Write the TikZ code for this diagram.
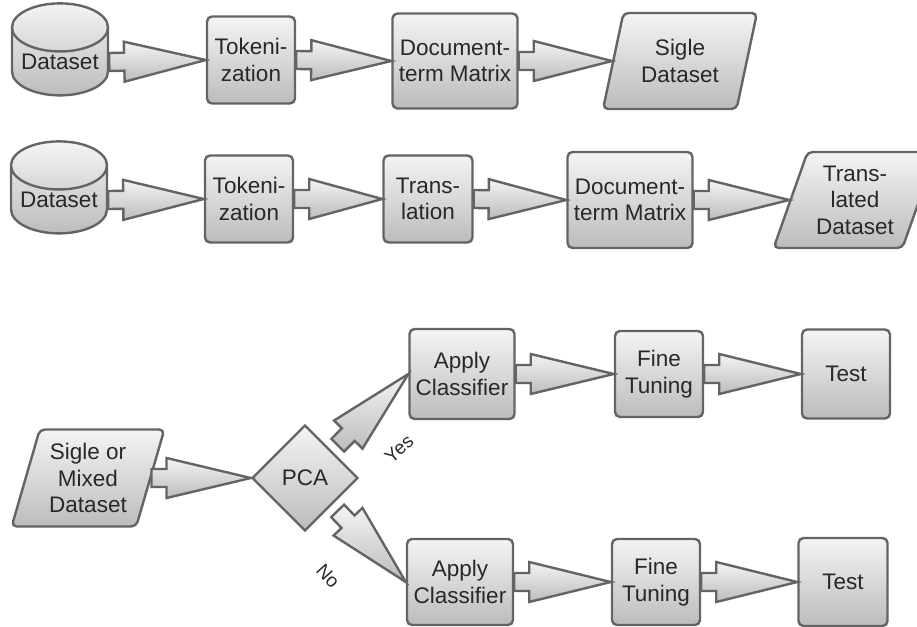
\documentclass[tikz,border=0pt]{standalone}
\usepackage{fontspec}
\setmainfont{Liberation Sans}
\usetikzlibrary{shapes.geometric}
\usetikzlibrary{calc}

\definecolor{shadetop}{RGB}{244,244,244}
\definecolor{shadebot}{RGB}{188,188,188}
\definecolor{edgegray}{RGB}{100,100,100}
\definecolor{textgray}{RGB}{40,40,40}

% block arrow between two anchors: #1 gap at the start
\newcommand{\flowarrow}[3][0pt]{%
  \coordinate (fa0) at (#2);
  \coordinate (fae) at (#3);
  \coordinate (fas) at ($(fa0)!#1!(fae)$);
  \coordinate (fab) at ($(fas)!15pt!(fae)$);
  \draw[flow]
    ($(fas)!9pt!90:(fae)$) -- ($(fab)!9pt!90:(fae)$) -- ($(fab)!20pt!90:(fae)$) -- (fae)
    -- ($(fab)!20pt!-90:(fae)$) -- ($(fab)!9pt!-90:(fae)$) -- ($(fas)!9pt!-90:(fae)$) -- cycle;
}

\begin{document}
\begin{tikzpicture}[x=1pt,y=-1pt]
  \tikzset{base/.style = {draw=edgegray,line width=2.4pt,top color=shadetop,bottom color=shadebot,
      text=textgray,font=\fontsize{22.5}{26.5}\selectfont,align=center,inner sep=0pt}}
  \tikzset{proc/.style = {base,rectangle,rounded corners=5pt}}
  \tikzset{data/.style = {base,shape=cylinder,shape border rotate=90,aspect=0.62,
      minimum width=96pt,minimum height=92pt}}
  \tikzset{io/.style = {base,trapezium,trapezium left angle=72,trapezium right angle=108,
      trapezium stretches=true,rounded corners=5pt}}
  \tikzset{decide/.style = {base,diamond,minimum width=106pt,minimum height=106pt}}
  \tikzset{flow/.style = {draw=edgegray,line width=2.4pt,top color=shadetop,bottom color=shadebot,line join=miter}}
  \tikzset{branch/.style = {text=textgray,font=\fontsize{19}{22}\selectfont,inner sep=0pt}}

  \useasboundingbox (0,0) rectangle (917,626);

  % first row
  \node[data] (ds1) at (60,62) {Dataset};
  \node[proc,minimum width=88pt,minimum height=87pt] (tok1) at (251,60) {Tokeni-\\zation};
  \node[proc,minimum width=125pt,minimum height=95pt] (dtm1) at (455,61) {Document-\\term Matrix};
  \node[io,minimum width=154pt,minimum height=96pt] (out1) at (680,61) {Sigle\\Dataset};

  % second row
  \node[data] (ds2) at (59,200) {Dataset};
  \node[proc,minimum width=88pt,minimum height=87pt] (tok2) at (249,199) {Tokeni-\\zation};
  \node[proc,minimum width=89pt,minimum height=87pt] (tr2) at (428,199) {Trans-\\lation};
  \node[proc,minimum width=125pt,minimum height=96pt] (dtm2) at (630,200) {Document-\\term Matrix};
  \node[io,minimum width=163pt,minimum height=96pt,trapezium left angle=68,trapezium right angle=112] (out2) at (855,200) {Trans-\\lated\\Dataset};

  % classification
  \node[io,minimum width=153pt,minimum height=97pt] (in3) at (88,478) {Sigle or\\Mixed\\Dataset};
  \node[decide] (pca) at (305,478) {PCA};
  \node[proc,minimum width=105pt,minimum height=90pt] (ac1) at (462,374) {Apply\\Classifier};
  \node[proc,minimum width=88pt,minimum height=86pt] (ft1) at (659,374) {Fine\\Tuning};
  \node[proc,minimum width=88pt,minimum height=89pt] (test1) at (846,374) {Test};
  \node[proc,minimum width=106pt,minimum height=86pt] (ac2) at (460,582) {Apply\\Classifier};
  \node[proc,minimum width=88pt,minimum height=86pt] (ft2) at (656,582) {Fine\\Tuning};
  \node[proc,minimum width=89pt,minimum height=88pt] (test2) at (843,582) {Test};

  \node[branch,rotate=42] (yes) at (399,449) {Yes};
  \node[branch,rotate=-48] (no) at (328,576) {No};

  \foreach \from/\to in {ds1/tok1, tok1/dtm1, dtm1/out1, ds2/tok2, tok2/tr2, tr2/dtm2, dtm2/out2,
      in3/pca, ac1/ft1, ft1/test1, ac2/ft2, ft2/test2}
    \flowarrow{\from.east}{\to.west};
  \flowarrow[8pt]{pca.north east}{ac1.west}
  \flowarrow[8pt]{pca.south east}{ac2.west}
\end{tikzpicture}
\end{document}
